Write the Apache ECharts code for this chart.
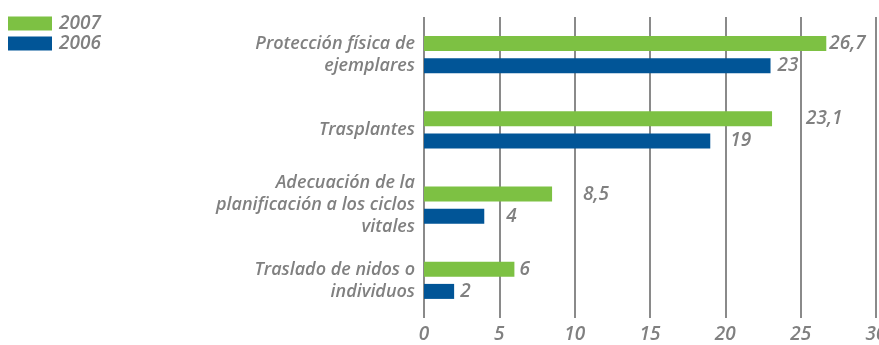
<!DOCTYPE html>
<html>
<head>
<meta charset="utf-8">
<script src="https://cdn.jsdelivr.net/npm/echarts@6/dist/echarts.min.js"></script>
<style>
  html, body { margin: 0; padding: 0; background: #ffffff; }
  #chart { width: 879px; height: 345px; }
</style>
</head>
<body>
<div id="chart"></div>
<script>
// Actions and their values per year
const categories = [
  'Protección física de\nejemplares',
  'Trasplantes',
  'Adecuación de la\nplanificación a los ciclos\nvitales',
  'Traslado de nidos o\nindividuos'
];
const values2007 = [26.7, 23.1, 8.5, 6];
const values2006 = [23, 19, 4, 2];
const xTicks = [0, 5, 10, 15, 20, 25, 30];

// Extra space between each bar end and its value label
const labelGap2007 = [3, 34, 31, 5];
const labelGap2006 = [7, 20, 22, 6];

const GREY = '#808080';
const FONT = '"Open Sans", "Noto Sans", sans-serif';

function fmt(v) { return String(v).replace('.', ','); }

function buildData(values, gaps) {
  return values.map((v, i) => ({
    value: v,
    label: { distance: gaps[i] }
  }));
}

const labelStyle = {
  show: true,
  position: 'right',
  color: GREY,
  fontFamily: FONT,
  fontStyle: 'italic',
  fontWeight: 600,
  fontSize: 19,
  formatter: p => fmt(p.value)
};

const chart = echarts.init(document.getElementById('chart'), null, { renderer: 'canvas' });
chart.setOption({
  animation: false,
  legend: {
    orient: 'vertical',
    left: 8,
    top: 14,
    padding: 0,
    itemWidth: 44,
    itemHeight: 14,
    itemGap: 1,
    icon: 'rect',
    textStyle: {
      color: GREY, fontFamily: FONT, fontStyle: 'italic', fontWeight: 600,
      fontSize: 19, lineHeight: 18, padding: [0, 0, 0, 2]
    },
    data: ['2007', '2006']
  },
  grid: { left: 424, right: 3, top: 17, bottom: 27, outerBoundsMode: 'none', containLabel: false },
  xAxis: {
    type: 'value',
    min: xTicks[0],
    max: xTicks[xTicks.length - 1],
    interval: 5,
    axisLine: { show: false },
    axisTick: { show: false },
    axisLabel: {
      color: GREY, fontFamily: FONT, fontStyle: 'italic', fontWeight: 600,
      fontSize: 19, margin: 7
    },
    splitLine: { show: true, lineStyle: { color: '#8a8a8a', width: 2 } }
  },
  yAxis: {
    type: 'category',
    inverse: true,
    data: categories,
    axisLine: { show: false },
    axisTick: { show: false },
    axisLabel: {
      color: GREY, fontFamily: FONT, fontStyle: 'italic', fontWeight: 600, fontSize: 18,
      lineHeight: 22, align: 'right', margin: 9
    }
  },
  series: [
    {
      name: '2007',
      type: 'bar',
      barWidth: 15,
      barGap: '47%',
      itemStyle: { color: '#7dc143' },
      label: labelStyle,
      data: buildData(values2007, labelGap2007)
    },
    {
      name: '2006',
      type: 'bar',
      barWidth: 15,
      barGap: '47%',
      itemStyle: { color: '#015597' },
      label: labelStyle,
      data: buildData(values2006, labelGap2006)
    }
  ]
});
</script>
</body>
</html>
